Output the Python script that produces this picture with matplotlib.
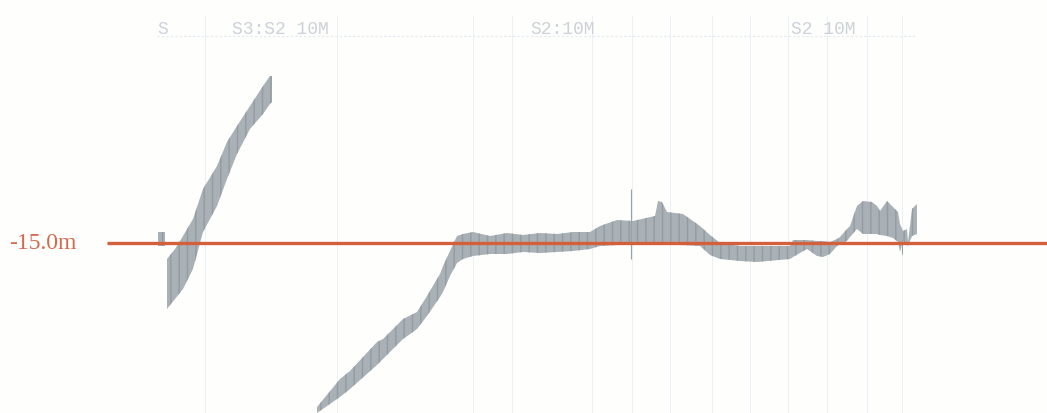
import matplotlib.pyplot as plt

# Echo-sounder trace (x = sample column, y = depth in image rows)
marker_x = [158, 165]
marker_top = [233, 233]
marker_bot = [247, 247]

seg1_x = [167, 175, 183, 193, 203, 217, 227, 237, 250, 263, 270, 272]
seg1_top = [260, 250, 237, 220, 190, 167, 143, 127, 107, 87, 77, 77]
seg1_bot = [310, 300, 290, 270, 233, 207, 180, 155, 130, 115, 105, 103]

seg2_x = [317, 340, 350, 377, 383, 403, 413, 417, 427, 440, 443, 450, 457, 463, 473,
          490, 507, 523, 540, 557, 573, 590, 600, 617, 633, 655, 658, 662, 667, 683,
          700, 710, 720, 740, 757, 790, 793, 807, 817, 823, 830, 837, 840, 847, 850,
          857, 863, 872, 877, 880, 887, 893, 898, 900, 903, 907, 908, 912, 917]
seg2_top = [408, 380, 372, 343, 340, 320, 315, 313, 297, 275, 267, 252, 237, 235, 233,
            237, 234, 236, 234, 235, 233, 233, 227, 221, 222, 217, 202, 203, 213, 215,
            227, 236, 244, 247, 247, 247, 241, 241, 242, 242, 243, 240, 238, 230, 227,
            207, 202, 203, 207, 212, 202, 208, 213, 225, 232, 230, 243, 210, 205]
seg2_bot = [414, 398, 390, 366, 360, 340, 333, 330, 317, 298, 293, 277, 264, 260, 257,
            255, 255, 253, 254, 253, 252, 250, 247, 246, 246, 246, 246, 246, 246, 246,
            247, 256, 260, 262, 263, 260, 258, 250, 257, 258, 255, 247, 245, 242, 238,
            230, 235, 235, 235, 236, 237, 239, 243, 253, 242, 246, 247, 237, 235]

ref_depth = 244
ref_label = "-15.0m"

grid_x = [205, 337, 473, 512, 592, 632, 670, 712, 750, 788, 827, 867, 902]
top_labels = ["S", "S3:S2 10M", "S2:10M", "S2 10M"]
top_label_x = [157, 232, 530, 791]

band_color = "#a9b1b6"
band_hatch = "#949ca1"
red = "#d35f3d"

fig = plt.figure(figsize=(10.47, 4.14), dpi=100, facecolor="#fefefd")
ax = fig.add_axes([0, 0, 1, 1])
ax.set_facecolor("#fefefd")
ax.set_xlim(0, 1047)
ax.set_ylim(414, 0)
ax.axis("off")

# faint chart paper grid
for gx in grid_x:
    ax.axvline(gx, ymin=0, ymax=0.96, color="#e9f0f6", lw=0.7, zorder=0)
ax.hlines(37, 157, 915, color="#e4e9ef", lw=0.8, linestyles=(0, (2, 2)), zorder=0)

for lab, lx in zip(top_labels, top_label_x):
    ax.text(lx, 29, lab, color="#ccd2d9", fontsize=13, family="Liberation Mono",
            va="center", ha="left")

# depth trace
for xs, top, bot in [(marker_x, marker_top, marker_bot),
                     (seg1_x, seg1_top, seg1_bot),
                     (seg2_x, seg2_top, seg2_bot)]:
    ax.fill_between(xs, top, bot, facecolor=band_color, edgecolor=band_hatch,
                    hatch="||", linewidth=0, zorder=2)

# stray marks in the trace
ax.vlines([631, 902], [190, 240], [260, 255], color="#9aa2a7", lw=0.8, zorder=3)

# reference depth line
ax.hlines(ref_depth, 107, 1047, color=red, lw=2.4, zorder=4)
ax.text(9, ref_depth, ref_label, color="#d46a4e", fontsize=17,
        family="Liberation Serif", va="center", ha="left")

plt.savefig("out.png", dpi=100, facecolor=fig.get_facecolor())
